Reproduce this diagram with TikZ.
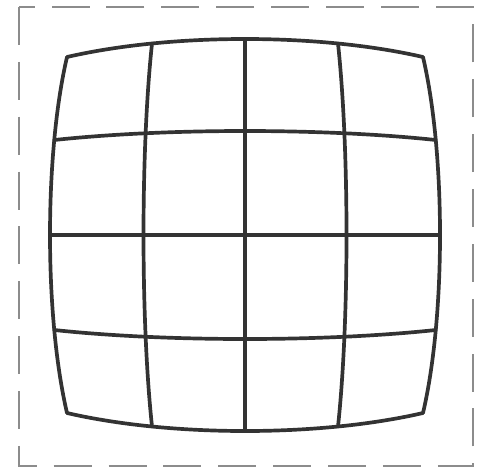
\documentclass[tikz,border=0pt]{standalone}
\usepackage{tikz}
\usetikzlibrary{calc}
% barrel grid: x = cx + u(a - b u^2 - c v^2), y = cy + v(a' - b' v^2 - c' u^2)
\newcommand{\gxa}{102.83}
\newcommand{\gxb}{1.333}
\newcommand{\gxc}{2.125}
\newcommand{\gya}{106}
\newcommand{\gyb}{2}
\newcommand{\gyc}{2.25}
\newcommand{\gridcx}{245}
\newcommand{\gridcy}{235}

\begin{document}
\begin{tikzpicture}[
    x=0.01cm, y=-0.01cm,
    frame/.style={draw=black!45, line width=0.6pt, dash pattern=on 10.8pt off 4.8pt},
    gridline/.style={draw=black!80, line width=1.05pt, line cap=round, line join=round}
]
\useasboundingbox (0,0) rectangle (483,470);

% Frame
\draw[frame] (19,7) rectangle (473,466);

% Barrel grid: rows
\foreach \j in {-2,...,2}
  \draw[gridline] plot[domain=-2:2, samples=41, smooth]
    ({\gridcx + \x*(\gxa-\gxb*\x*\x-\gxc*\j*\j)},
     {\gridcy + \j*(\gya-\gyb*\j*\j-\gyc*\x*\x)});

% Barrel grid: columns
\foreach \i in {-2,...,2}
  \draw[gridline] plot[domain=-2:2, samples=41, smooth]
    ({\gridcx + \i*(\gxa-\gxb*\i*\i-\gxc*\x*\x)},
     {\gridcy + \x*(\gya-\gyb*\x*\x-\gyc*\i*\i)});

\end{tikzpicture}
\end{document}
